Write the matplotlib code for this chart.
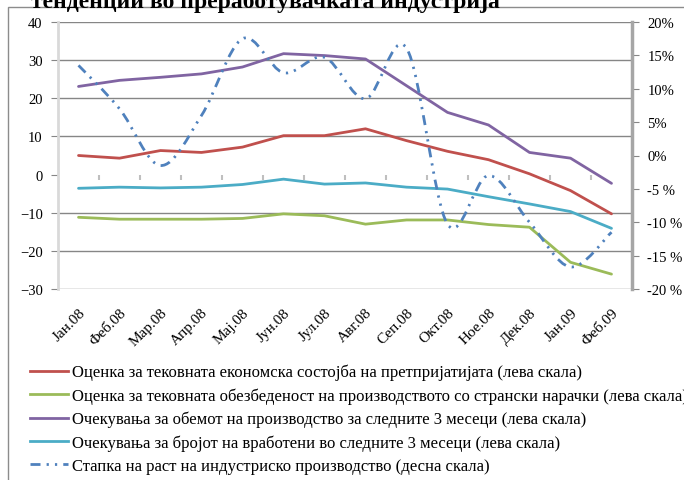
import numpy as np
import matplotlib
matplotlib.use("Agg")
import matplotlib.pyplot as plt
from matplotlib.path import Path
from matplotlib.patches import PathPatch, Rectangle
from matplotlib.lines import Line2D

plt.rcParams['font.family'] = ['Liberation Serif', 'DejaVu Serif']

months = ["Јан.08", "Феб.08", "Мар.08", "Апр.08", "Мај.08", "Јун.08", "Јул.08",
          "Авг.08", "Сеп.08", "Окт.08", "Ное.08", "Дек.08", "Јан.09", "Феб.09"]

# left scale (balance)
econ_state = [5.0, 4.3, 6.3, 5.8, 7.2, 10.2, 10.2, 12.0, 8.9, 6.1, 3.9, 0.2, -4.2, -10.3]
foreign_orders = [-11.2, -11.7, -11.7, -11.7, -11.5, -10.3, -10.8, -13.0, -11.9, -11.9,
                  -13.1, -13.8, -23.0, -26.1]
prod_expect = [23.1, 24.7, 25.5, 26.4, 28.2, 31.7, 31.2, 30.3, 23.3, 16.3, 13.0, 5.8, 4.3, -2.3]
empl_expect = [-3.6, -3.3, -3.5, -3.3, -2.6, -1.2, -2.5, -2.2, -3.3, -3.8, -5.8, -7.7, -9.7, -14.1]
# right scale (%)
ind_growth = [13.5, 7.0, -1.5, 6.0, 17.5, 12.4, 14.7, 8.5, 16.1, -10.3, -3.0, -10.0, -16.7, -11.5]

labels = [
    "Оценка за тековната економска состојба на претпријатијата (лева скала)",
    "Оценка за тековната обезбеденост на производството со странски нарачки (лева скала)",
    "Очекувања за обемот на производство за следните 3 месеци (лева скала)",
    "Очекувања за бројот на вработени во следните 3 месеци (лева скала)",
    "Стапка на раст на индустриско производство (десна скала)",
]
left_ticks = [-30, -20, -10, 0, 10, 20, 30, 40]
right_ticks = [-20, -15, -10, -5, 0, 5, 10, 15, 20]
right_ticklabels = ["-20 %", "-15 %", "-10 %", "-5 %", "0%", "5%", "10%", "15%", "20%"]

colors = ["#C0504D", "#9BBB59", "#8064A2", "#4BACC6"]
blue = "#4F81BD"
grid_c = "#868686"

W, H = 684, 481
fig = plt.figure(figsize=(W / 100, H / 100), dpi=100)
ax = fig.add_axes([58 / W, 1 - 290 / H, (632 - 58) / W, (290 - 23) / H])
ax2 = ax.twinx()

x = np.arange(len(months))
for vals, c in zip([econ_state, foreign_orders, prod_expect, empl_expect], colors):
    ax.plot(x, vals, color=c, lw=2, solid_capstyle='round', zorder=3)

ax.set_xlim(-0.5, len(months) - 0.5)
ax.set_ylim(-30, 40)
ax.set_yticks(left_ticks)
for t in left_ticks:
    if t != 0:
        ax.axhline(t, color=grid_c, lw=1, zorder=1)
# category axis at zero: only tick marks
ax.vlines(x[:-1] + 0.5, -1.3, 0, color="#BFBFBF", lw=1.5, zorder=1)

ax.set_xticks(x)
ax.set_xticklabels(months, rotation=45, ha='right', rotation_mode='anchor', fontsize=11)
ax.tick_params(axis='x', length=0, pad=12)
ax.tick_params(axis='y', length=5, color=grid_c, labelsize=10.5, pad=6)
for s in ['top', 'bottom', 'right']:
    ax.spines[s].set_visible(False)
ax.spines['left'].set_color("#D9D9D9")
ax.spines['left'].set_linewidth(2)

# smoothed secondary series (Bezier through data points, like the spreadsheet)
pts = np.column_stack([x, ind_growth]).astype(float)
ext = np.vstack([pts[0], pts, pts[-1]])
verts = [tuple(pts[0])]
codes = [Path.MOVETO]
for i in range(len(pts) - 1):
    p0, p1, p2, p3 = ext[i], ext[i + 1], ext[i + 2], ext[i + 3]
    c1 = p1 + (p2 - p0) / 6
    c2 = p2 - (p3 - p1) / 6
    verts += [tuple(c1), tuple(c2), tuple(p2)]
    codes += [Path.CURVE4] * 3
dash = (0, (3.6, 2.2, 0.8, 2.2, 0.8, 2.2))
ax2.add_patch(PathPatch(Path(verts, codes), fill=False, edgecolor=blue, lw=2,
                        linestyle=dash, capstyle='butt', zorder=4))
ax2.set_ylim(-20, 20)
ax2.set_yticks(right_ticks)
ax2.set_yticklabels(right_ticklabels)
ax2.tick_params(axis='y', length=5, color=grid_c, labelsize=10.5, pad=6)
for s in ['top', 'bottom', 'left']:
    ax2.spines[s].set_visible(False)
ax2.spines['right'].set_color("#A6A6A6")
ax2.spines['right'].set_linewidth(2.5)

# legend
handles = [Line2D([], [], color=c, lw=2) for c in colors]
handles.append(Line2D([], [], color=blue, lw=2, linestyle=dash))
fig.legend(handles, labels, loc='upper left', bbox_to_anchor=(30 / W, 1 - 365 / H),
           frameon=False, fontsize=12, handlelength=2.3, handletextpad=0.25,
           labelspacing=0.42, borderpad=0, borderaxespad=0)

# chart border and cut-off title
fig.add_artist(Rectangle((7.5 / W, -0.1), 1.2, 1.1 - 7.5 / H, transform=fig.transFigure,
                         fill=False, edgecolor="#8C8C8C", lw=1))
fig.text(265 / W, 1 - 8 / H, "тенденции во преработувачката индустрија",
         ha='center', va='baseline', fontsize=17, fontweight='bold')

fig.savefig("out.png", dpi=100)
